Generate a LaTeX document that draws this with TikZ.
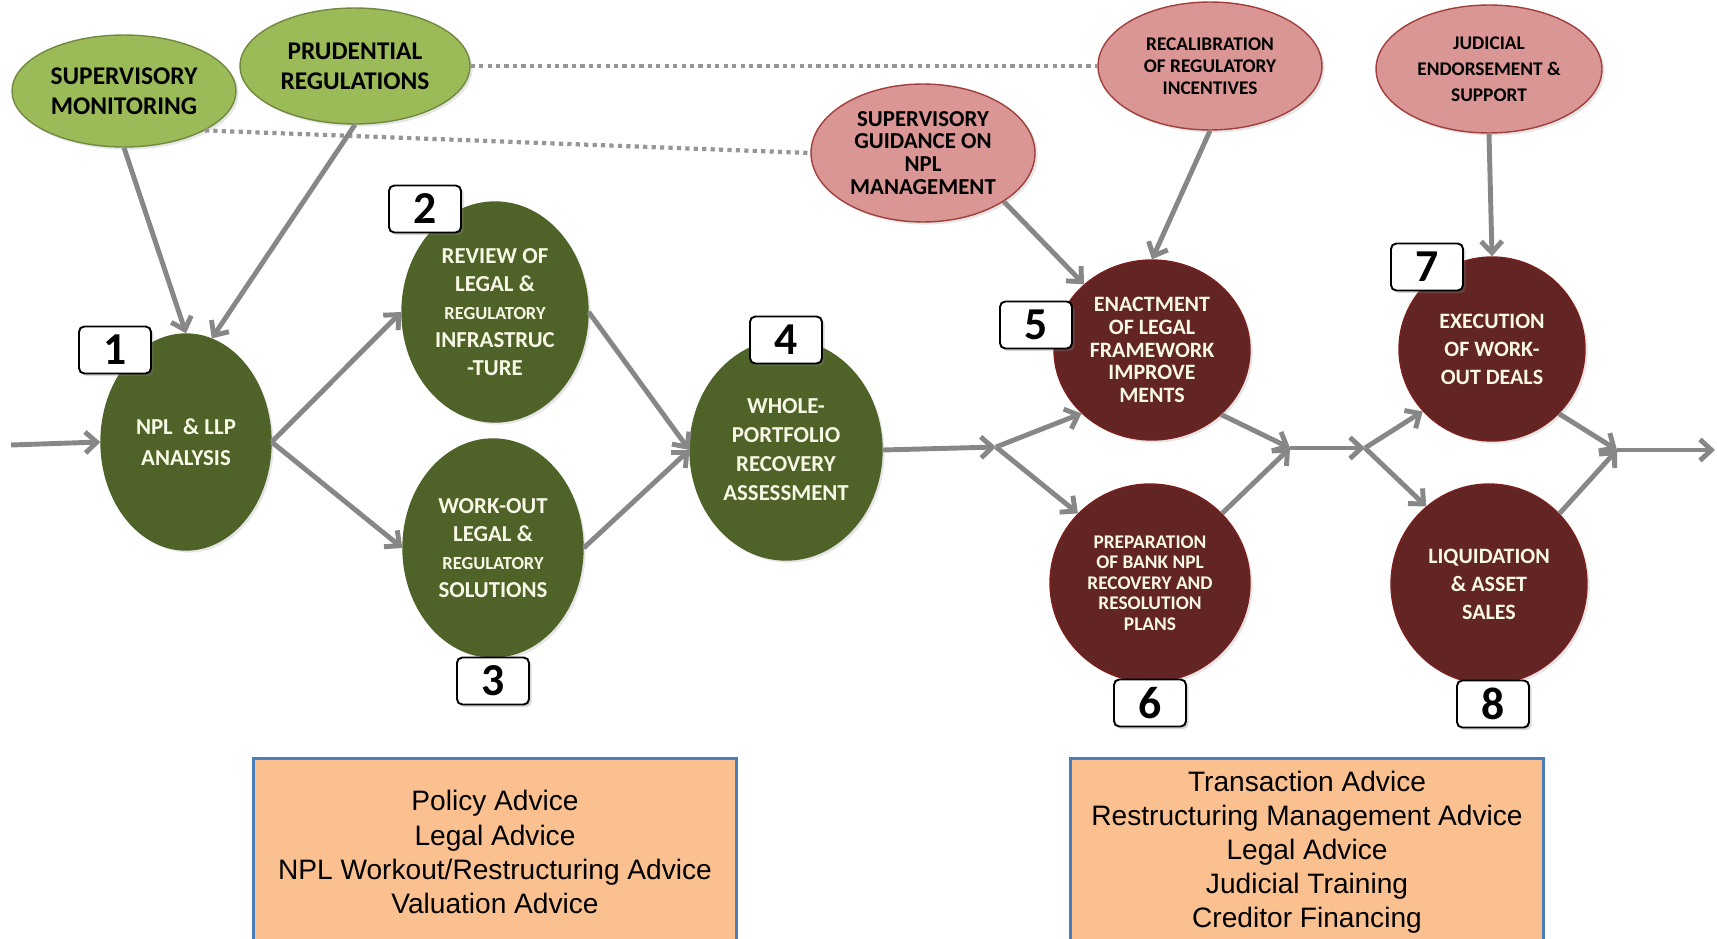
\documentclass[tikz,border=0pt]{standalone}
\usepackage{fontspec}
\setmainfont{Carlito}
\newfontfamily\arialfont{Liberation Sans}
\usetikzlibrary{shapes.geometric,arrows.meta,shadows}
\definecolor{leafgreen}{HTML}{9BBB59}
\definecolor{leafedge}{HTML}{71893F}
\definecolor{rosefill}{HTML}{D99694}
\definecolor{roseedge}{HTML}{A23F3C}
\definecolor{olivedark}{HTML}{4F6228}
\definecolor{maroondark}{HTML}{632523}
\definecolor{flowgray}{HTML}{878787}
\definecolor{dotgray}{HTML}{969696}
\definecolor{peach}{HTML}{FAC090}
\definecolor{peachedge}{HTML}{4A7EBB}
\definecolor{creamtext}{HTML}{F8F8E6}
\begin{document}
\begin{tikzpicture}[x=0.02cm, y=-0.02cm,
        every node/.style = {align=center, inner sep=0pt},
        oval/.style = {shape=ellipse, line width=0.8pt,
                        drop shadow={opacity=0.2, shadow xshift=1.5pt, shadow yshift=-1.5pt}},
        topgreen/.style = {oval, fill=leafgreen, draw=leafedge, text=black},
        toprose/.style = {oval, fill=rosefill, draw=roseedge, text=black},
        stagegreen/.style = {oval, fill=olivedark, draw=olivedark, text=creamtext},
        stagered/.style = {oval, fill=maroondark, draw=maroondark!85!red, text=creamtext},
        numbox/.style = {shape=rectangle, rounded corners=3pt, draw=black, line width=1.1pt, fill=white,
                        minimum width=1.44cm, minimum height=0.94cm,
                        font=\fontsize{26}{26}\selectfont\bfseries,
                        drop shadow={opacity=0.3, shadow xshift=1.5pt, shadow yshift=-1.5pt}},
        advice/.style = {shape=rectangle, draw=peachedge, line width=1.7pt, fill=peach,
                        minimum height=3.76cm, font=\arialfont\fontsize{16}{19.4}\selectfont},
        flow/.style = {draw=flowgray, line width=2.8pt, -{Straight Barb[length=6.5pt,width=12pt]}},
        link/.style = {draw=dotgray, line width=2.4pt, dash pattern=on 2.4pt off 2.4pt}]
    \useasboundingbox (0,0) rectangle (1717,939);

    \node[topgreen, minimum width=4.48cm, minimum height=2.24cm,
          font=\bfseries\fontsize{14.5}{17}\selectfont] (supmon) at (124,91) {SUPERVISORY\\MONITORING};
    \node[topgreen, minimum width=4.6cm, minimum height=2.32cm,
          font=\bfseries\fontsize{14.5}{17}\selectfont] (prureg) at (355,66) {PRUDENTIAL\\REGULATIONS};
    \node[toprose, minimum width=4.48cm, minimum height=2.76cm,
          font=\bfseries\fontsize{13}{13}\selectfont] (guidance) at (923,153) {SUPERVISORY\\GUIDANCE ON\\NPL\\MANAGEMENT};
    \node[toprose, minimum width=4.48cm, minimum height=2.56cm,
          font=\bfseries\fontsize{11}{12.5}\selectfont] (recalib) at (1210,66) {RECALIBRATION\\OF REGULATORY\\INCENTIVES};
    \node[toprose, minimum width=4.52cm, minimum height=2.56cm,
          font=\bfseries\fontsize{11}{14.8}\selectfont] (judicial) at (1489,69) {JUDICIAL\\ENDORSEMENT \&\\SUPPORT};

    \node[stagegreen, minimum width=3.4cm, minimum height=4.32cm,
          font=\bfseries\fontsize{13}{17.5}\selectfont] (analysis) at (186,442) {NPL \ \& LLP\\ANALYSIS};
    \node[stagegreen, minimum width=3.72cm, minimum height=4.4cm,
          font=\bfseries\fontsize{13}{16}\selectfont] (review) at (495,312)
          {REVIEW OF\\LEGAL \&\\{\fontsize{10.5}{16}\selectfont REGULATORY}\\INFRASTRUC\\-TURE};
    \node[stagegreen, minimum width=3.6cm, minimum height=4.36cm,
          font=\bfseries\fontsize{13}{16}\selectfont] (workout) at (493,548)
          {WORK-OUT\\LEGAL \&\\{\fontsize{10.5}{16}\selectfont REGULATORY}\\SOLUTIONS};
    \node[stagegreen, minimum width=3.84cm, minimum height=4.4cm,
          font=\bfseries\fontsize{13}{16.5}\selectfont] (whole) at (786,450) {WHOLE-\\PORTFOLIO\\RECOVERY\\ASSESSMENT};
    \node[stagered, minimum width=3.92cm, minimum height=3.6cm,
          font=\bfseries\fontsize{12.5}{13}\selectfont] (enact) at (1152,350)
          {ENACTMENT\\OF LEGAL\\FRAMEWORK\\IMPROVE\\MENTS};
    \node[stagered, minimum width=4cm, minimum height=3.96cm,
          font=\bfseries\fontsize{11}{11.7}\selectfont] (prep) at (1150,583)
          {PREPARATION\\OF BANK NPL\\RECOVERY AND\\RESOLUTION\\PLANS};
    \node[stagered, minimum width=3.72cm, minimum height=3.68cm,
          font=\bfseries\fontsize{12.5}{16}\selectfont] (execute) at (1492,349) {EXECUTION\\OF WORK-\\OUT DEALS};
    \node[stagered, minimum width=3.92cm, minimum height=4cm,
          font=\bfseries\fontsize{12.5}{16}\selectfont] (liquid) at (1489,584) {LIQUIDATION\\\& ASSET\\SALES};

    \node[numbox] (tag1) at (115,350) {1};
    \node[numbox] (tag2) at (425,209) {2};
    \node[numbox] (tag3) at (493,681) {3};
    \node[numbox] (tag4) at (786,340) {4};
    \node[numbox] (tag5) at (1036,325) {5};
    \node[numbox] (tag6) at (1150,703) {6};
    \node[numbox] (tag7) at (1427,267) {7};
    \node[numbox] (tag8) at (1493,704) {8};

    \node[advice, minimum width=9.66cm] (leftadvice) at (495,852)
          {Policy Advice\\Legal Advice\\NPL Workout/Restructuring Advice\\Valuation Advice};
    \node[advice, minimum width=9.48cm] (rightadvice) at (1307,852)
          {Transaction Advice\\Restructuring Management Advice\\Legal Advice\\Judicial Training\\Creditor Financing};

    \coordinate (start) at (11,445);
    \coordinate (fork1) at (996,447);
    \coordinate (merge1) at (1290,448);
    \coordinate (fork2) at (1365,448);
    \coordinate (merge2) at (1617,450);
    \coordinate (finish) at (1715,450);

    \draw[link] (prureg.east) -- (recalib.west);
    \draw[link] (supmon.-26) -- (guidance.west);

    \foreach \from/\to in {supmon.south/analysis.north, prureg.south/analysis.76,
            guidance.-31/enact.136, recalib.south/enact.north, judicial.south/execute.north,
            start/analysis.west, analysis.east/review.west, analysis.east/workout.west,
            review.east/whole.west, workout.east/whole.west, whole.east/fork1,
            fork1/enact.222, fork1/prep.136, enact.-43/merge1, prep.44/merge1, merge1/fork2,
            fork2/execute.222, fork2/liquid.129, execute.-44/merge2, liquid.45/merge2, merge2/finish}
        \draw[flow] (\from) -- (\to);
\end{tikzpicture}
\end{document}
